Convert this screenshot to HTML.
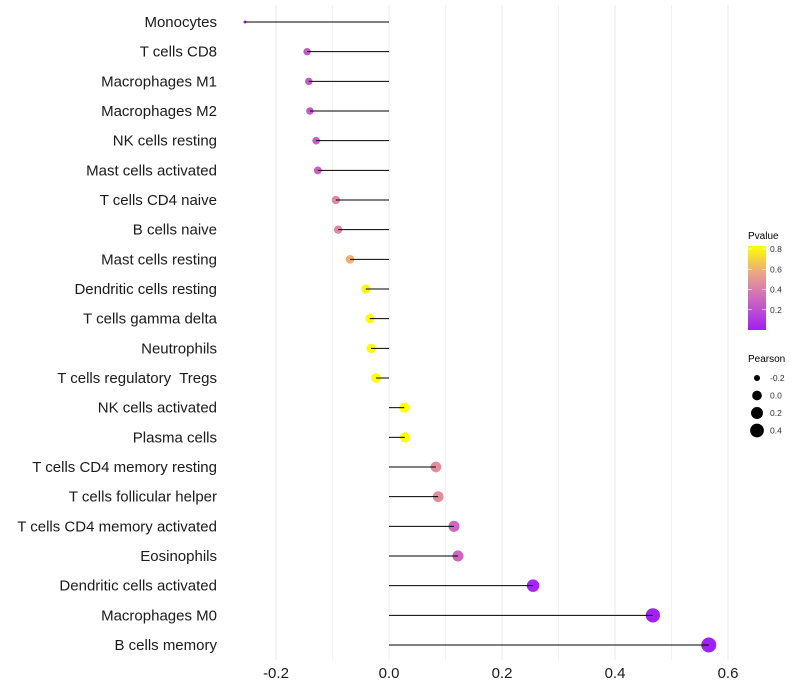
<!DOCTYPE html>
<html><head><meta charset="utf-8"><style>
body{margin:0;background:#fff;}
svg{display:block;font-family:"Liberation Sans",sans-serif;}
text{white-space:pre;}
</style></head><body>
<svg id="chart" width="800" height="700">
<defs>
<linearGradient id="pgrad" x1="0" y1="1" x2="0" y2="0">
<stop offset="0" stop-color="#A020F0"/>
<stop offset="0.36" stop-color="#CC66C0"/>
<stop offset="0.66" stop-color="#EBA08A"/>
<stop offset="1" stop-color="#FFFF00"/>
</linearGradient>
</defs>
<g id="grid"></g>
<g id="marks"></g>
<g id="ylabels"></g>
<g id="xlabels"></g>
<g>
<text x="748" y="239" font-size="10" fill="#000">Pvalue</text>
<rect x="748" y="246" width="18" height="84" fill="url(#pgrad)"/>
<g id="cbticks"></g>
</g>
<g id="sizeleg">
<text x="748" y="362" font-size="10" fill="#000">Pearson</text>
</g>
</svg>
<script>
const categories=["Monocytes","T cells CD8","Macrophages M1","Macrophages M2","NK cells resting","Mast cells activated","T cells CD4 naive","B cells naive","Mast cells resting","Dendritic cells resting","T cells gamma delta","Neutrophils","T cells regulatory  Tregs","NK cells activated","Plasma cells","T cells CD4 memory resting","T cells follicular helper","T cells CD4 memory activated","Eosinophils","Dendritic cells activated","Macrophages M0","B cells memory"];
const pearson=[-0.255,-0.145,-0.142,-0.14,-0.129,-0.126,-0.094,-0.09,-0.069,-0.041,-0.034,-0.032,-0.023,0.027,0.028,0.083,0.087,0.115,0.122,0.255,0.467,0.566];
const pvalues=[0.03,0.25,0.25,0.25,0.27,0.27,0.45,0.45,0.6,0.8,0.84,0.84,0.9,0.9,0.9,0.47,0.47,0.3,0.3,0.04,0.01,0.005];
const xTicks=[-0.2,0,0.2,0.4,0.6];
const xTickLabels=["-0.2","0.0","0.2","0.4","0.6"];
const pTicks=[0.2,0.4,0.6,0.8];
const sizeLegend=[-0.2,0.0,0.2,0.4];

const NS="http://www.w3.org/2000/svg";
function el(t,a,p){const e=document.createElementNS(NS,t);for(const k in a)e.setAttribute(k,a[k]);p.appendChild(e);return e;}
const x=v=>389+v*565;
const y=i=>22+i*(623/(categories.length-1));
const r=v=>1.5+6*Math.sqrt(Math.max(0,(v+0.255)/0.82));
function hex(h){return[parseInt(h.slice(1,3),16),parseInt(h.slice(3,5),16),parseInt(h.slice(5,7),16)];}
const stops=[[0,"#A020F0"],[0.3,"#CC66C0"],[0.55,"#EBA08A"],[0.83,"#FFFF00"]];
function col(p){p=Math.min(0.83,Math.max(0,p));for(let i=0;i<stops.length-1;i++){const[a,ca]=stops[i],[b,cb]=stops[i+1];if(p<=b){const t=(p-a)/(b-a),A=hex(ca),B=hex(cb);return"rgb("+A.map((c,j)=>Math.round(c+(B[j]-c)*t)).join(",")+")";}}return"#FFFF00";}

const grid=document.getElementById("grid");
for(let g=-0.2;g<=0.61;g+=0.1){
  const l=el("line",{x1:x(g),x2:x(g),y1:5,y2:660,stroke:"#ebebeb","stroke-width":Math.abs(Math.round(g*10))%2===0?1:0.6},grid);
  
  
}
const marks=document.getElementById("marks");
categories.forEach((c,i)=>{
  const v=pearson[i];
  const d=el("circle",{cx:x(v),cy:y(i),r:r(v),fill:col(pvalues[i])},marks);
  
  
  const s=el("line",{x1:x(0),x2:x(v),y1:y(i),y2:y(i),stroke:"#000","stroke-width":1},marks);
  
  
  const t=el("text",{x:217,y:y(i)+5,"text-anchor":"end","font-size":15,fill:"#1a1a1a"},document.getElementById("ylabels"));
  t.textContent=c;
  
  
});
xTicks.forEach((v,i)=>{
  const t=el("text",{x:x(v),y:678,"text-anchor":"middle","font-size":15,fill:"#1a1a1a"},document.getElementById("xlabels"));
  t.textContent=xTickLabels[i];
  
  
});
const cb=document.getElementById("cbticks");
pTicks.forEach(p=>{
  const yy=330-p*(84/0.83);
  el("line",{x1:748,x2:752,y1:yy,y2:yy,stroke:"#fff","stroke-width":0.6},cb);
  el("line",{x1:762,x2:766,y1:yy,y2:yy,stroke:"#fff","stroke-width":0.6},cb);
  const t=el("text",{x:770,y:yy+3,"font-size":8.5,fill:"#333"},cb);
  t.textContent=p.toFixed(1);
  
  
});
const sl=document.getElementById("sizeleg");
sizeLegend.forEach((v,i)=>{
  const yy=378+i*17.5;
  const c=el("circle",{cx:757,cy:yy,r:r(v),fill:"#000"},sl);
  
  
  const t=el("text",{x:770,y:yy+3,"font-size":8.5,fill:"#333"},sl);
  t.textContent=v.toFixed(1);
  
  
});
</script>
</body></html>
